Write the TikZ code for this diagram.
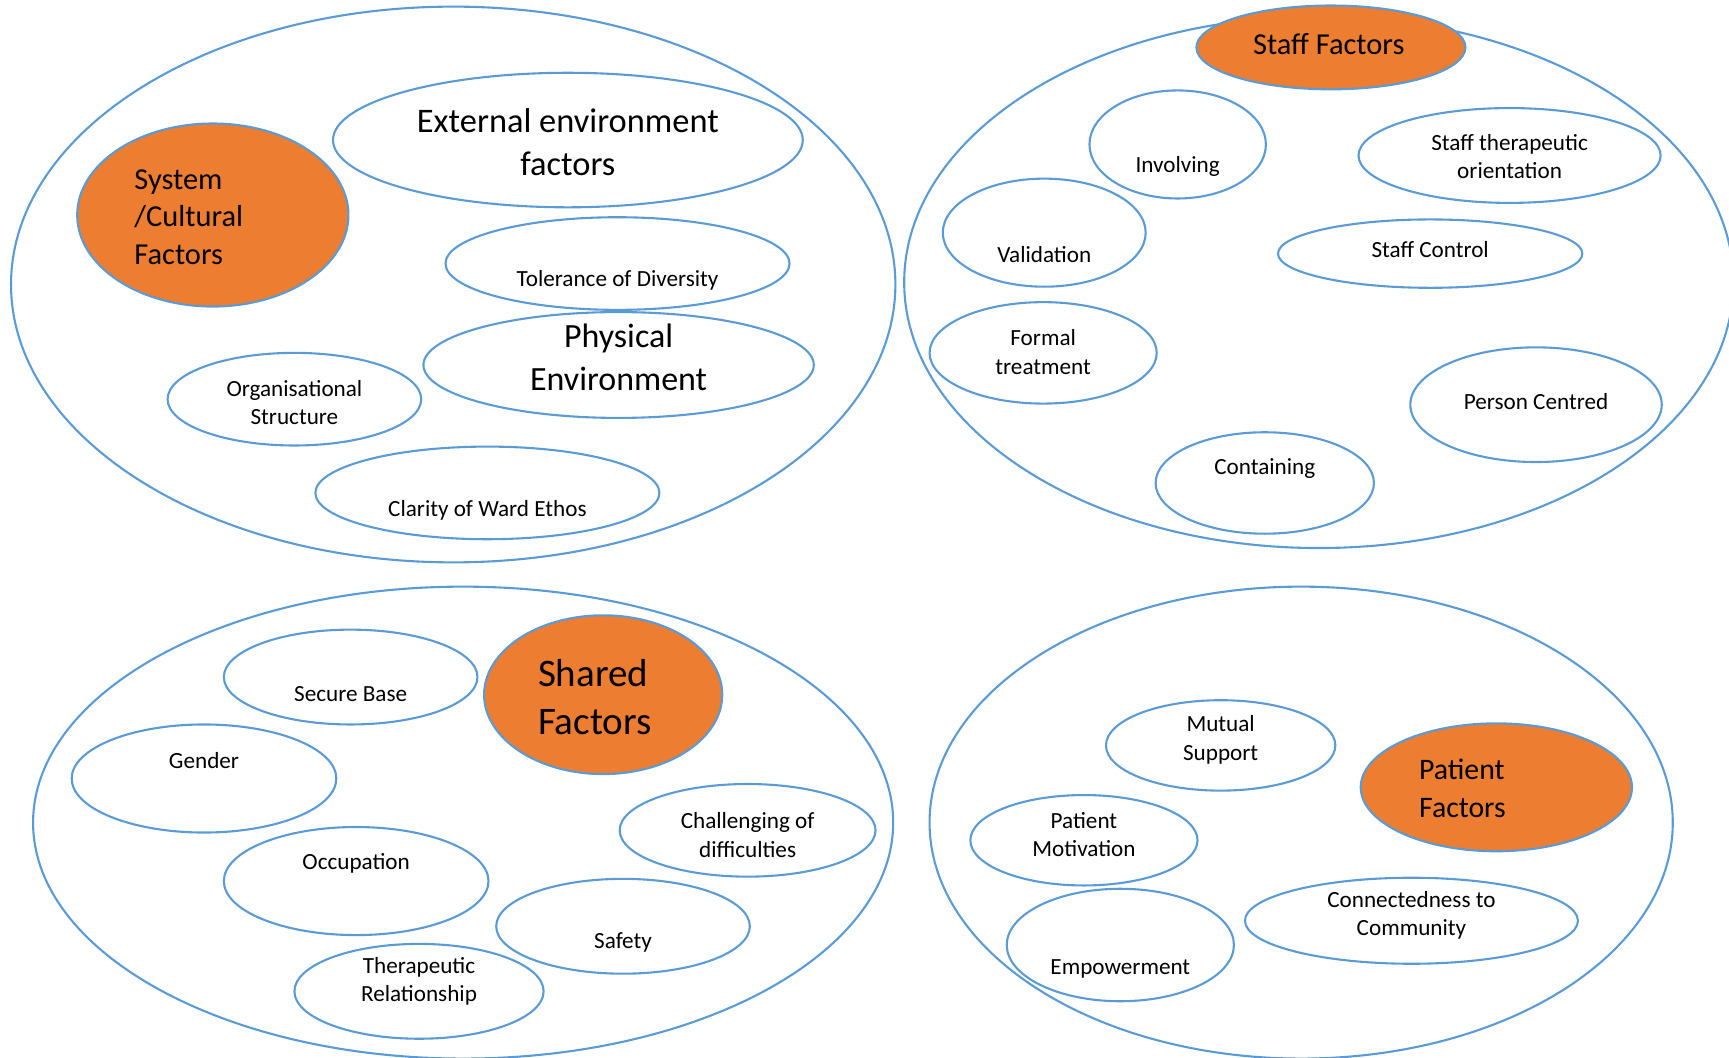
\documentclass[tikz,border=0pt]{standalone}
\usepackage{fontspec}
\setmainfont{Carlito}
\usepackage{tikz}
\usetikzlibrary{shapes.geometric}
\definecolor{lineblue}{RGB}{91,155,213}
\definecolor{factorange}{RGB}{237,125,49}

\begin{document}
\begin{tikzpicture}[x=0.5pt, y=-0.5pt, line width=0.95pt,
    bub/.style={ellipse, draw=lineblue, inner sep=0pt},
    core/.style={ellipse, draw=lineblue, fill=factorange, inner sep=0pt},
    txt/.style={align=center, inner sep=0pt, yshift=-1pt, font=\fontsize{10.5}{13}\selectfont},
    bigtxt/.style={align=center, inner sep=0pt, font=\fontsize{15.6}{19.5}\selectfont}]
    \useasboundingbox (0,0) rectangle (1568,959);

    % the four groups
    \node[bub, minimum width=401pt, minimum height=252pt] (sysgrp) at (411,258) {};
    \node[bub, minimum width=376pt, minimum height=241pt] (staffgrp) at (1196,256) {};
    \node[bub, minimum width=390pt, minimum height=214pt] (sharedgrp) at (420,746) {};
    \node[bub, minimum width=337pt, minimum height=214pt] (patgrp) at (1180,746) {};

%top left
    \node[core, minimum width=123pt, minimum height=83pt] (sys) at (193,195) {};
    \node[align=left, anchor=west, inner sep=0pt, font=\fontsize{13.8}{17}\selectfont] (sysT) at (121,197) {System\\/Cultural\\Factors};
    \node[bub, minimum width=213pt, minimum height=61pt] (ext) at (515,127) {};
    \node[bigtxt] (extT) at (515,129) {External environment\\factors};
    \node[bub, minimum width=156pt, minimum height=42pt] (tol) at (560,239) {};
    \node[txt] (tolT) at (560,252) {Tolerance of Diversity};
    \node[bub, minimum width=177pt, minimum height=48pt] (phys) at (561,331) {};
    \node[bigtxt, font=\fontsize{15.4}{19.5}\selectfont] (physT) at (561,324) {Physical\\Environment};
    \node[bub, minimum width=115pt, minimum height=42pt] (org) at (267,362) {};
    \node[txt] (orgT) at (267,363) {Organisational\\Structure};
    \node[bub, minimum width=156pt, minimum height=42pt] (clar) at (442,447) {};
    \node[txt] (clarT) at (442,461) {Clarity of Ward Ethos};

%top right
    \node[core, minimum width=122pt, minimum height=38pt] (staff) at (1207,43) {};
    \node[inner sep=0pt, font=\fontsize{13.8}{17}\selectfont] (staffT) at (1205,40) {Staff Factors};
    \node[bub, minimum width=80pt, minimum height=49pt] (inv) at (1068,131) {};
    \node[txt] (invT) at (1068,149) {Involving};
    \node[bub, minimum width=137pt, minimum height=43pt] (orient) at (1369,141) {};
    \node[txt] (orientT) at (1369,140) {Staff therapeutic\\orientation};
    \node[bub, minimum width=92pt, minimum height=49pt] (valid) at (947,211) {};
    \node[txt] (validT) at (947,229) {Validation};
    \node[bub, minimum width=138pt, minimum height=31pt] (ctrl) at (1297,230) {};
    \node[txt] (ctrlT) at (1297,224) {Staff Control};
    \node[bub, minimum width=103pt, minimum height=46pt] (formal) at (946,320) {};
    \node[txt] (formalT) at (946,317) {Formal\\treatment};
    \node[bub, minimum width=114pt, minimum height=52pt] (person) at (1393,367) {};
    \node[txt] (personT) at (1393,362) {Person Centred};
    \node[bub, minimum width=99pt, minimum height=46pt] (contain) at (1147,438) {};
    \node[txt] (containT) at (1147,423) {Containing};

%bottom left
    \node[core, minimum width=108pt, minimum height=72pt] (shared) at (547,630) {};
    \node[align=left, anchor=west, inner sep=0pt, font=\fontsize{17.7}{22}\selectfont] (sharedT) at (487,632) {Shared\\Factors};
    \node[bub, minimum width=115pt, minimum height=43pt] (secure) at (318,614) {};
    \node[txt] (secureT) at (318,627) {Secure Base};
    \node[bub, minimum width=120pt, minimum height=49pt] (gender) at (185,706) {};
    \node[txt] (genderT) at (185,688) {Gender};
    \node[bub, minimum width=116pt, minimum height=42pt] (chall) at (678,753) {};
    \node[txt] (challT) at (678,755) {Challenging of\\difficulties};
    \node[bub, minimum width=120pt, minimum height=49pt] (occup) at (323,799) {};
    \node[txt] (occupT) at (323,781) {Occupation};
    \node[bub, minimum width=115pt, minimum height=43pt] (safety) at (565,840) {};
    \node[txt] (safetyT) at (565,853) {Safety};
    \node[bub, minimum width=113pt, minimum height=43pt] (thera) at (380,899) {};
    \node[txt] (theraT) at (380,888) {Therapeutic\\Relationship};

%bottom right
    \node[bub, minimum width=104pt, minimum height=41pt] (mutual) at (1107,676) {};
    \node[txt] (mutualT) at (1107,669) {Mutual\\Support};
    \node[core, minimum width=123pt, minimum height=58pt] (patient) at (1357,714) {};
    \node[align=left, anchor=west, inner sep=0pt, font=\fontsize{13.5}{17}\selectfont] (patientT) at (1286,715) {Patient\\Factors};
    \node[bub, minimum width=103pt, minimum height=41pt] (motiv) at (983,762) {};
    \node[txt] (motivT) at (983,755) {Patient\\Motivation};
    \node[bub, minimum width=151pt, minimum height=39pt] (connect) at (1280,835) {};
    \node[txt] (connectT) at (1280,828) {Connectedness to\\Community};
    \node[bub, minimum width=103pt, minimum height=51pt] (empower) at (1016,857) {};
    \node[txt] (empowerT) at (1016,877) {Empowerment};
\end{tikzpicture}
\end{document}
